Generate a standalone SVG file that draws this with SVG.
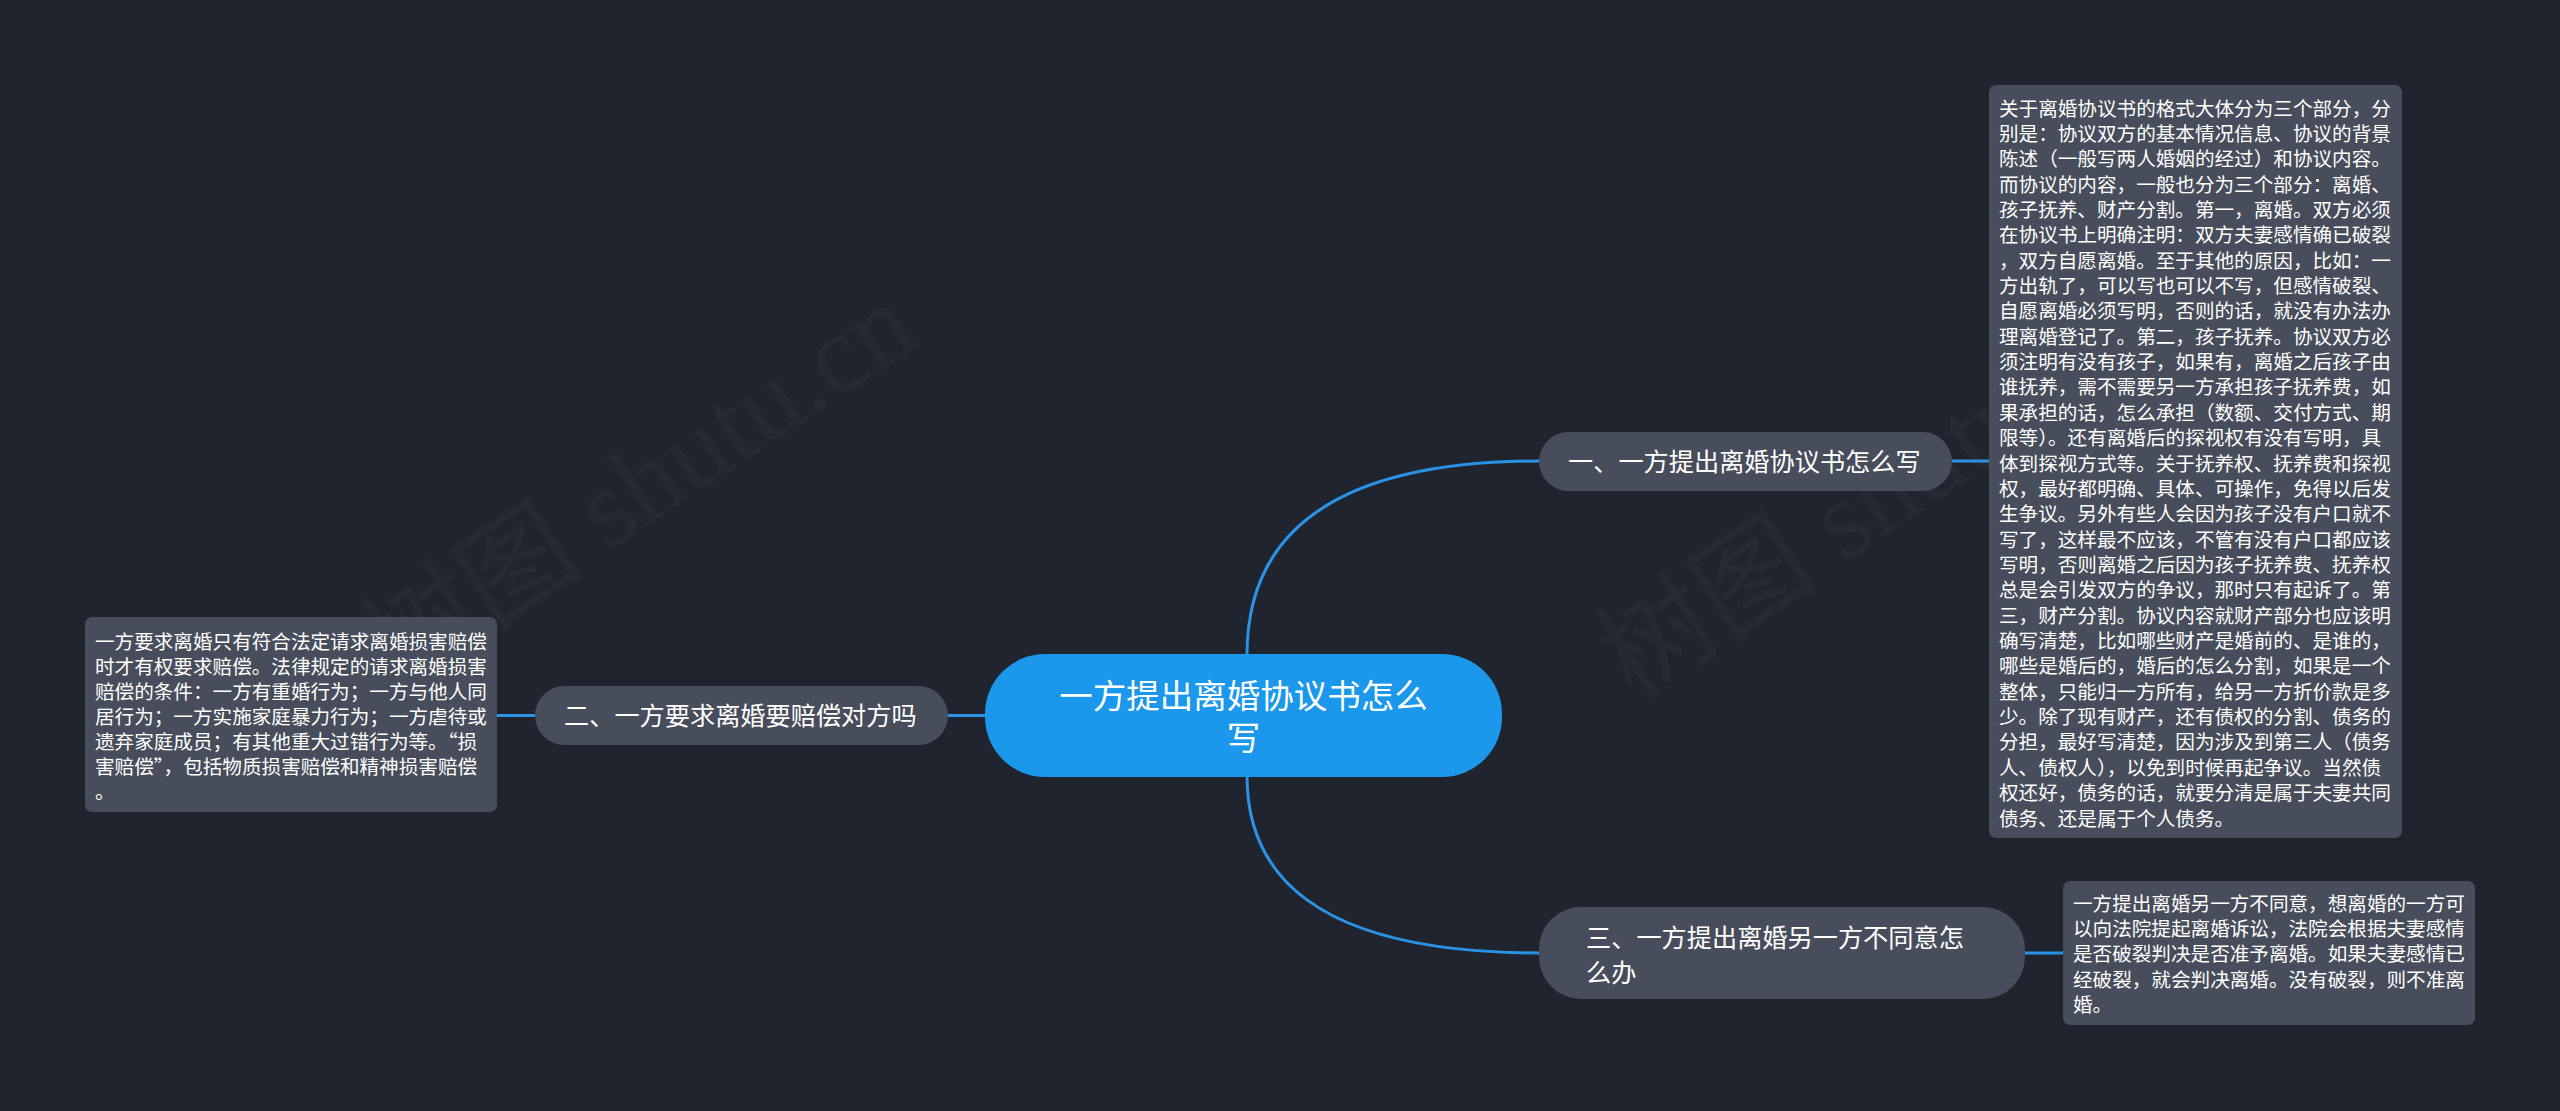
<svg xmlns="http://www.w3.org/2000/svg" width="2560" height="1111" viewBox="0 0 2560 1111">
<style>
.bg{fill:#20242f}
.wm{fill:#ffffff;fill-opacity:0.027;font-family:"Liberation Serif","Noto Sans CJK SC",serif;font-size:112px}
.conn{fill:none;stroke:#2a93e6;stroke-width:3;stroke-linecap:round}
.root{fill:#1b98ec}
.branch{fill:#474d5b}
.leaf{fill:#474d5b}
.tr{fill:#ffffff;font-family:"Noto Sans CJK SC","Microsoft YaHei",sans-serif;font-size:33.5px}
.tb{fill:#ffffff;font-family:"Noto Sans CJK SC","Microsoft YaHei",sans-serif;font-size:25.2px}
.tl{fill:#ffffff;font-family:"Noto Sans CJK SC","Microsoft YaHei",sans-serif;font-size:19.6px}
</style>
<rect class="bg" x="0" y="0" width="2560" height="1111"/>
<g id="watermark">
<text class="wm" transform="translate(398,690) rotate(-33.5)">树图 shutu.cn</text>
<text class="wm" transform="translate(1633,702) rotate(-33.5)">树图 shutu.cn</text>
</g>
<g id="connectors">
<path class="conn" d="M1247,655 Q1247,461 1540,461"/>
<path class="conn" d="M1247,776 Q1247,953 1540,953"/>
<path class="conn" d="M986,715.5 L947,715.5"/>
<path class="conn" d="M1952,461 L1990,461"/>
<path class="conn" d="M535,715.5 L497,715.5"/>
<path class="conn" d="M2025,953 L2063,953"/>
</g>
<g id="root">
<rect class="root" x="985" y="654" width="517" height="123" rx="60" ry="60"/>
<text class="tr" x="1243.5" y="707.5" text-anchor="middle">一方提出离婚协议书怎么</text>
<text class="tr" x="1243.5" y="749.5" text-anchor="middle">写</text>
</g>
<g id="branch1">
<rect class="branch" x="1539" y="432" width="413" height="59" rx="29.5" ry="29.5"/>
<text class="tb" x="1568" y="471">一、一方提出离婚协议书怎么写</text>
</g>
<g id="branch2">
<rect class="branch" x="535" y="686" width="413" height="59" rx="29.5" ry="29.5"/>
<text class="tb" x="564" y="725">二、一方要求离婚要赔偿对方吗</text>
</g>
<g id="branch3">
<rect class="branch" x="1539" y="907" width="486" height="92" rx="42" ry="42"/>
<text class="tb" x="1586" y="946.5">三、一方提出离婚另一方不同意怎</text>
<text class="tb" x="1586" y="981.5">么办</text>
</g>
<g id="leaf1">
<rect class="leaf" x="1989" y="85" width="413" height="753" rx="7" ry="7"/>
<text class="tl" x="1999" y="115.5">
<tspan x="1999" dy="0">关于离婚协议书的格式大体分为三个部分，分</tspan>
<tspan x="1999" dy="25.36">别是：协议双方的基本情况信息、协议的背景</tspan>
<tspan x="1999" dy="25.36">陈述（一般写两人婚姻的经过）和协议内容。</tspan>
<tspan x="1999" dy="25.36">而协议的内容，一般也分为三个部分：离婚、</tspan>
<tspan x="1999" dy="25.36">孩子抚养、财产分割。第一，离婚。双方必须</tspan>
<tspan x="1999" dy="25.36">在协议书上明确注明：双方夫妻感情确已破裂</tspan>
<tspan x="1999" dy="25.36">，双方自愿离婚。至于其他的原因，比如：一</tspan>
<tspan x="1999" dy="25.36">方出轨了，可以写也可以不写，但感情破裂、</tspan>
<tspan x="1999" dy="25.36">自愿离婚必须写明，否则的话，就没有办法办</tspan>
<tspan x="1999" dy="25.36">理离婚登记了。第二，孩子抚养。协议双方必</tspan>
<tspan x="1999" dy="25.36">须注明有没有孩子，如果有，离婚之后孩子由</tspan>
<tspan x="1999" dy="25.36">谁抚养，需不需要另一方承担孩子抚养费，如</tspan>
<tspan x="1999" dy="25.36">果承担的话，怎么承担（数额、交付方式、期</tspan>
<tspan x="1999" dy="25.36">限等）。还有离婚后的探视权有没有写明，具</tspan>
<tspan x="1999" dy="25.36">体到探视方式等。关于抚养权、抚养费和探视</tspan>
<tspan x="1999" dy="25.36">权，最好都明确、具体、可操作，免得以后发</tspan>
<tspan x="1999" dy="25.36">生争议。另外有些人会因为孩子没有户口就不</tspan>
<tspan x="1999" dy="25.36">写了，这样最不应该，不管有没有户口都应该</tspan>
<tspan x="1999" dy="25.36">写明，否则离婚之后因为孩子抚养费、抚养权</tspan>
<tspan x="1999" dy="25.36">总是会引发双方的争议，那时只有起诉了。第</tspan>
<tspan x="1999" dy="25.36">三，财产分割。协议内容就财产部分也应该明</tspan>
<tspan x="1999" dy="25.36">确写清楚，比如哪些财产是婚前的、是谁的，</tspan>
<tspan x="1999" dy="25.36">哪些是婚后的，婚后的怎么分割，如果是一个</tspan>
<tspan x="1999" dy="25.36">整体，只能归一方所有，给另一方折价款是多</tspan>
<tspan x="1999" dy="25.36">少。除了现有财产，还有债权的分割、债务的</tspan>
<tspan x="1999" dy="25.36">分担，最好写清楚，因为涉及到第三人（债务</tspan>
<tspan x="1999" dy="25.36">人、债权人），以免到时候再起争议。当然债</tspan>
<tspan x="1999" dy="25.36">权还好，债务的话，就要分清是属于夫妻共同</tspan>
<tspan x="1999" dy="25.36">债务、还是属于个人债务。</tspan>
</text>
</g>
<g id="leaf2">
<rect class="leaf" x="85" y="617" width="412" height="195" rx="7" ry="7"/>
<text class="tl" x="95" y="649">
<tspan x="95" dy="0">一方要求离婚只有符合法定请求离婚损害赔偿</tspan>
<tspan x="95" dy="25">时才有权要求赔偿。法律规定的请求离婚损害</tspan>
<tspan x="95" dy="25">赔偿的条件：一方有重婚行为；一方与他人同</tspan>
<tspan x="95" dy="25">居行为；一方实施家庭暴力行为；一方虐待或</tspan>
<tspan x="95" dy="25">遗弃家庭成员；有其他重大过错行为等。“损</tspan>
<tspan x="95" dy="25">害赔偿”，包括物质损害赔偿和精神损害赔偿</tspan>
<tspan x="95" dy="25">。</tspan>
</text>
</g>
<g id="leaf3">
<rect class="leaf" x="2063" y="881" width="412" height="144" rx="7" ry="7"/>
<text class="tl" x="2073" y="910.5">
<tspan x="2073" dy="0">一方提出离婚另一方不同意，想离婚的一方可</tspan>
<tspan x="2073" dy="25.4">以向法院提起离婚诉讼，法院会根据夫妻感情</tspan>
<tspan x="2073" dy="25.4">是否破裂判决是否准予离婚。如果夫妻感情已</tspan>
<tspan x="2073" dy="25.4">经破裂，就会判决离婚。没有破裂，则不准离</tspan>
<tspan x="2073" dy="25.4">婚。</tspan>
</text>
</g>
</svg>
